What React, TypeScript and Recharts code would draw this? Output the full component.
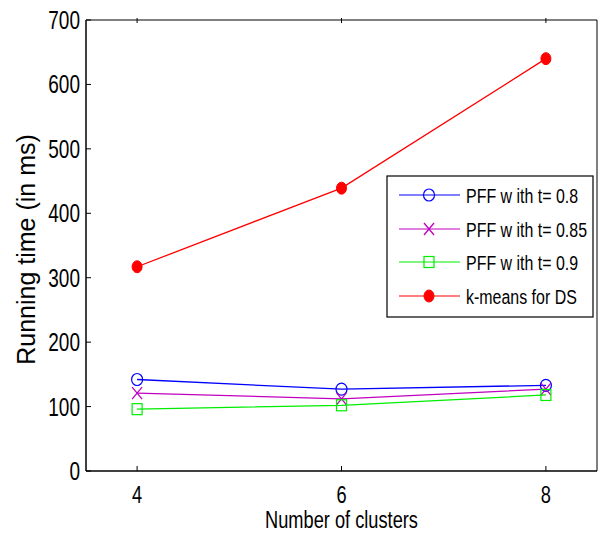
import { LineChart, Line, XAxis, YAxis } from 'recharts';

const clusters = [4, 6, 8];
const pff08 = [142, 127, 133];
const pff085 = [121, 112, 127];
const pff09 = [96, 102, 118];
const kmeans = [317, 439, 640];
const yTicks = [0, 100, 200, 300, 400, 500, 600, 700];

const seriesNames = ['PFF w ith t= 0.8', 'PFF w ith t= 0.85', 'PFF w ith t= 0.9', 'k-means for DS'];

const data = clusters.map((c, i) => ({
  c,
  a: pff08[i],
  b: pff085[i],
  d: pff09[i],
  k: kmeans[i],
}));

const FONT = '"Liberation Sans", Arial, sans-serif';

// narrow text: MATLAB export looks horizontally squeezed
function NarrowText({ x, y, size, anchor, children }: any) {
  return (
    <text
      transform={`translate(${x},${y}) scale(0.76,1)`}
      textAnchor={anchor}
      fontSize={size}
      fontFamily={FONT}
      fill="#000"
    >
      {children}
    </text>
  );
}

function Marker({ kind, cx, cy, color }: { kind: string; cx: number; cy: number; color: string }) {
  if (kind === 'circle') {
    return <ellipse cx={cx} cy={cy} rx={5.5} ry={6} fill="none" stroke={color} strokeWidth={1.2} />;
  }
  if (kind === 'cross') {
    return (
      <g stroke={color} strokeWidth={1.3}>
        <line x1={cx - 5} y1={cy - 6} x2={cx + 5} y2={cy + 6} />
        <line x1={cx - 5} y1={cy + 6} x2={cx + 5} y2={cy - 6} />
      </g>
    );
  }
  if (kind === 'square') {
    return <rect x={cx - 5} y={cy - 5.5} width={10} height={11} fill="none" stroke={color} strokeWidth={1.2} />;
  }
  return <ellipse cx={cx} cy={cy} rx={5} ry={6} fill={color} stroke={color} />;
}

const series = [
  { key: 'a', color: '#0000ff', kind: 'circle' },
  { key: 'b', color: '#c000c0', kind: 'cross' },
  { key: 'd', color: '#00ee00', kind: 'square' },
  { key: 'k', color: '#ff0000', kind: 'disc' },
];

function makeDot(kind: string, color: string) {
  return (p: any) => <Marker key={`${kind}-${p.index}`} kind={kind} cx={p.cx} cy={p.cy} color={color} />;
}

function YTick({ x, y, payload }: any) {
  return (
    <g>
      <line x1={x} y1={y} x2={x + 5} y2={y} stroke="#000" />
      <NarrowText x={x - 6} y={y + 9} size={25} anchor="end">
        {payload.value}
      </NarrowText>
    </g>
  );
}

function XTick({ x, y, payload }: any) {
  return (
    <g>
      <line x1={x} y1={y} x2={x} y2={y - 5} stroke="#000" />
      <NarrowText x={x} y={y + 32} size={24} anchor="middle">
        {payload.value}
      </NarrowText>
    </g>
  );
}

function TopTick({ x, y }: any) {
  return <line x1={x} y1={y} x2={x} y2={y + 5} stroke="#000" />;
}

function RightTick({ x, y }: any) {
  return <line x1={x} y1={y} x2={x - 5} y2={y} stroke="#000" />;
}

function XLabel({ viewBox }: any) {
  const cx = viewBox.x + viewBox.width / 2;
  return (
    <NarrowText x={cx} y={528} size={24} anchor="middle">
      Number of clusters
    </NarrowText>
  );
}

function YLabel({ viewBox }: any) {
  const cy = viewBox.y + viewBox.height / 2;
  return (
    <text
      transform={`translate(35,${cy + 4}) rotate(-90)`}
      textAnchor="middle"
      fontSize={25}
      fontFamily={FONT}
      fill="#000"
    >
      Running time (in ms)
    </text>
  );
}

function LegendBox() {
  const rows = [195, 229, 262, 296];
  return (
    <svg width={208} height={143} style={{ position: 'absolute', left: 386, top: 175 }}>
      <rect x={1} y={1} width={206} height={141} fill="#fff" stroke="#000" strokeWidth={1.2} />
      {series.map((s, i) => {
        const y = rows[i] - 175;
        return (
          <g key={s.key}>
            <line x1={13} y1={y} x2={74} y2={y} stroke={s.color} strokeWidth={1.2} />
            <Marker kind={s.kind} cx={43} cy={y} color={s.color} />
            <NarrowText x={80} y={y + 8} size={21} anchor="start">
              {seriesNames[i]}
            </NarrowText>
          </g>
        );
      })}
    </svg>
  );
}

export default function App() {
  return (
    <div style={{ position: 'absolute', left: 0, top: 0, width: 604, height: 541, background: '#fff' }}>
      <LineChart width={604} height={541} data={data} margin={{ top: 0, right: 0, left: 0, bottom: 0 }}>
        <XAxis
          dataKey="c"
          type="number"
          domain={[3.5, 8.5]}
          ticks={clusters}
          height={70}
          tickSize={0}
          tickMargin={0}
          tickLine={false}
          tick={<XTick />}
          axisLine={{ stroke: '#000', strokeWidth: 1.5 }}
          label={<XLabel />}
        />
        <XAxis
          xAxisId="top"
          orientation="top"
          dataKey="c"
          type="number"
          domain={[3.5, 8.5]}
          ticks={clusters}
          height={20}
          tickSize={0}
          tickLine={false}
          tick={<TopTick />}
          axisLine={{ stroke: '#000' }}
        />
        <YAxis
          type="number"
          domain={[0, 700]}
          ticks={yTicks}
          width={86}
          tickSize={0}
          tickMargin={0}
          tickLine={false}
          tick={<YTick />}
          axisLine={{ stroke: '#000', strokeWidth: 1.5 }}
          label={<YLabel />}
        />
        <YAxis
          yAxisId="r"
          orientation="right"
          type="number"
          domain={[0, 700]}
          ticks={yTicks}
          width={7}
          tickSize={0}
          tickLine={false}
          tick={<RightTick />}
          axisLine={{ stroke: '#000' }}
        />
        {series.map((s) => (
          <Line
            key={s.key}
            dataKey={s.key}
            stroke={s.color}
            strokeWidth={1.3}
            dot={makeDot(s.kind, s.color)}
            activeDot={false}
            isAnimationActive={false}
            type="linear"
          />
        ))}
      </LineChart>
      <LegendBox />
    </div>
  );
}
